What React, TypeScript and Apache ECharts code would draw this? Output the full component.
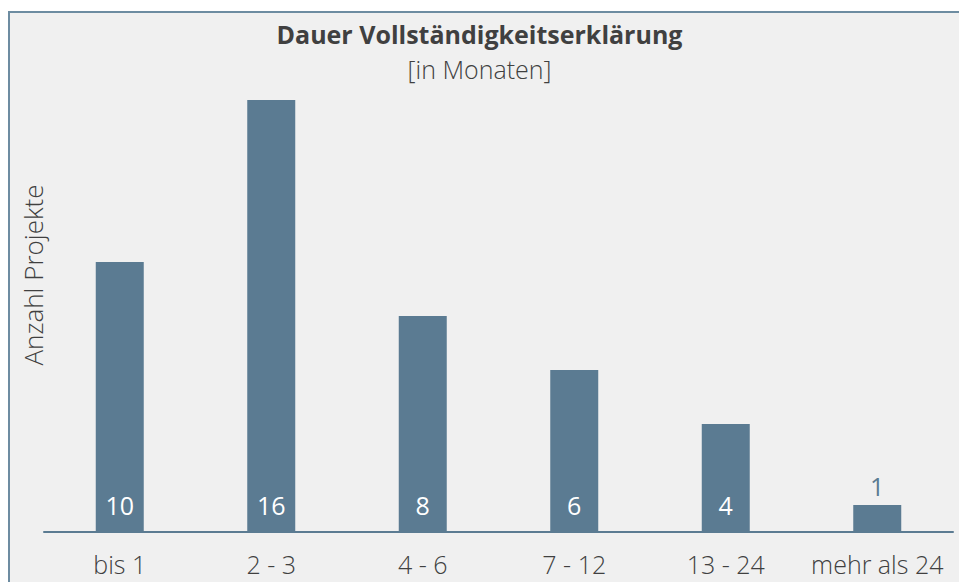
import React, { useEffect, useRef } from "react";
import * as echarts from "echarts";

const categories = ["bis 1", "2 - 3", "4 - 6", "7 - 12", "13 - 24", "mehr als 24"];
const values = [10, 16, 8, 6, 4, 1];
const titleText = "Dauer Vollständigkeitserklärung";
const subtitleText = "[in Monaten]";
const yAxisName = "Anzahl Projekte";

const BAR = "#5b7b92";
const FONT = "'Open Sans', 'Noto Sans', sans-serif";

export default function App() {
  const ref = useRef<HTMLDivElement>(null);
  useEffect(() => {
    document.body.style.margin = "0";
    const chart = echarts.init(ref.current!, null, { renderer: "svg" });
    chart.setOption({
      animation: false,
      backgroundColor: "#ffffff",
      textStyle: { fontFamily: FONT },
      graphic: [
        {
          type: "rect",
          z: -10,
          silent: true,
          shape: { x: 9, y: 12, width: 1000, height: 1000 },
          style: { fill: "#f0f0f0", stroke: "#6d8ca1", lineWidth: 2 },
        },
        {
          type: "text",
          x: 33,
          y: 275,
          rotation: Math.PI / 2,
          silent: true,
          style: {
            text: yAxisName,
            fontFamily: FONT,
            fontSize: 26,
            fontWeight: 300,
            fill: "#404040",
            align: "center",
            verticalAlign: "middle",
          },
        },
      ],
      title: {
        text: titleText,
        subtext: subtitleText,
        left: "center",
        top: 16,
        itemGap: 10,
        textStyle: { fontFamily: FONT, fontSize: 25, fontWeight: "bold", color: "#404040" },
        subtextStyle: { fontFamily: FONT, fontSize: 25, fontWeight: 300, color: "#404040" },
      },
      grid: { left: 44, right: 6, top: 100, bottom: 50 },
      xAxis: {
        type: "category",
        data: categories,
        axisLine: { show: true, lineStyle: { color: BAR, width: 2 } },
        axisTick: { show: false },
        axisLabel: { color: "#404040", fontSize: 25, fontWeight: 300, margin: 19, interval: 0, fontFamily: FONT },
      },
      yAxis: {
        type: "value",
        min: 0,
        max: 16,
        axisLine: { show: false },
        axisTick: { show: false },
        axisLabel: { show: false },
        splitLine: { show: false },
      },
      series: [
        {
          type: "bar",
          data: values.map((v) => ({
            value: v,
            label:
              v < 2
                ? { show: true, position: "top", distance: 7, color: BAR, fontSize: 25, fontFamily: FONT }
                : { show: true, position: "insideBottom", distance: 15, color: "#ffffff", fontSize: 25, fontFamily: FONT },
          })),
          barWidth: 48,
          itemStyle: { color: BAR },
        },
      ],
    });
    return () => chart.dispose();
  }, []);
  return <div ref={ref} style={{ width: 959, height: 582 }} />;
}
